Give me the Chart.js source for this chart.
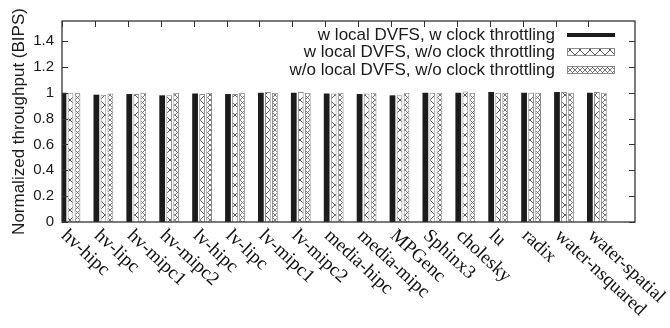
<!DOCTYPE html>
<html><head><meta charset="utf-8">
<script src="https://cdn.jsdelivr.net/npm/chart.js@4.4.0/dist/chart.umd.min.js"></script>
<style>html,body{margin:0;padding:0;background:#fff}</style>
</head><body>
<canvas id="c" width="670" height="328"></canvas>
<script>
const categories = ['hv-hipc','hv-lipc','hv-mipc1','hv-mipc2','lv-hipc','lv-lipc','lv-mipc1','lv-mipc2','media-hipc','media-mipc','MPGenc','Sphinx3','cholesky','lu','radix','water-nsquared','water-spatial'];
const seriesNames = ['w local DVFS, w clock throttling','w local DVFS, w/o clock throttling','w/o local DVFS, w/o clock throttling'];
const withDvfsWithThrottling = [1.0,0.985,0.99,0.98,0.995,0.99,1.0,1.0,0.995,0.99,0.98,1.0,1.0,1.005,1.0,1.005,1.0];
const withDvfsNoThrottling   = [1.0,0.985,0.99,0.98,0.99,0.99,1.005,1.005,0.995,0.995,0.98,1.0,1.01,1.0,1.0,1.005,1.005];
const noDvfsNoThrottling     = [1.0,0.995,1.0,1.0,1.0,1.0,1.0,1.0,1.0,1.0,1.0,1.0,1.0,1.0,1.0,1.0,1.0];
const yTicks = [0,0.2,0.4,0.6,0.8,1,1.2,1.4];
const yMax = 1.555;
const yTitle = 'Normalized throughput (BIPS)';

const GROUP_SHIFT = 0.258;   // ticks sit left of the group centre
const LABEL_ANGLE = 43 * Math.PI / 180;

function makePattern(period, color, lw) {
  const c = document.createElement('canvas');
  c.width = period; c.height = period;
  const g = c.getContext('2d');
  g.fillStyle = '#fff'; g.fillRect(0, 0, period, period);
  g.strokeStyle = color; g.lineWidth = lw;
  g.beginPath();
  g.moveTo(-1, -1); g.lineTo(period + 1, period + 1);
  g.moveTo(period + 1, -1); g.lineTo(-1, period + 1);
  g.stroke();
  return g.createPattern(c, 'repeat');
}
const ctxEl = document.getElementById('c');
const patBig = makePattern(10, '#444', 0.9);
const patSmall = makePattern(5, '#666', 0.9);

const toPts = arr => arr.map((v, i) => ({x: i, y: v}));

const decor = {
  id: 'decor',
  beforeDatasetsDraw(chart) {
    const {ctx, chartArea: a, scales: {x}} = chart;
    ctx.save();
    ctx.strokeStyle = '#333'; ctx.lineWidth = 1;
    ctx.beginPath();
    categories.forEach((_, i) => {
      const px = Math.round(x.getPixelForValue(i - GROUP_SHIFT)) + 0.5;
      ctx.moveTo(px, a.bottom); ctx.lineTo(px, a.bottom - 6);
    });
    ctx.stroke();
    ctx.restore();
  },
  afterDatasetsDraw(chart) {
    const {ctx, chartArea: a, scales: {x, y}} = chart;
    ctx.save();
    ctx.strokeStyle = '#333'; ctx.lineWidth = 1;
    ctx.beginPath();
    categories.forEach((_, i) => {
      const px = Math.round(x.getPixelForValue(i - GROUP_SHIFT)) + 0.5;
      ctx.moveTo(px, a.top); ctx.lineTo(px, a.top + 6);
    });
    yTicks.forEach(v => {
      const py = Math.round(y.getPixelForValue(v)) + 0.5;
      ctx.moveTo(a.left, py); ctx.lineTo(a.left + 6, py);
      ctx.moveTo(a.right, py); ctx.lineTo(a.right - 6, py);
    });
    ctx.stroke();
    ctx.lineWidth = 1.3;
    ctx.strokeRect(a.left, a.top, a.right - a.left, a.bottom - a.top);

    // category labels, rotated, starting at each tick
    ctx.fillStyle = '#111';
    ctx.font = '19px "Liberation Serif"';
    ctx.textAlign = 'left';
    ctx.textBaseline = 'middle';
    categories.forEach((lab, i) => {
      const px = x.getPixelForValue(i - GROUP_SHIFT);
      ctx.save();
      ctx.translate(px + 2, a.bottom + 11);
      ctx.rotate(LABEL_ANGLE);
      ctx.fillText(lab, 0, 0);
      ctx.restore();
    });

    // legend, text left of the key, inside the top right
    ctx.font = '17px "Liberation Sans"';
    ctx.textAlign = 'right';
    const rows = [35, 52, 70];
    chart.data.datasets.forEach((ds, k) => {
      const ry = rows[k];
      ctx.fillStyle = '#1a1a1a';
      ctx.fillText(ds.label, 555, ry);
      if (k === 0) {
        ctx.fillStyle = ds.backgroundColor;
        ctx.fillRect(567, ry - 2, 48, 4);
      } else {
        ctx.fillStyle = ds.backgroundColor;
        ctx.fillRect(567, ry - 4, 48, 7);
        ctx.strokeStyle = ds.borderColor; ctx.lineWidth = 1;
        ctx.strokeRect(567.5, ry - 3.5, 47, 7);
      }
    });
    ctx.restore();
  }
};

new Chart(ctxEl, {
  type: 'bar',
  data: {
    datasets: [
      {label: seriesNames[0], data: toPts(withDvfsWithThrottling), backgroundColor: '#1c1c1c', borderWidth: 0},
      {label: seriesNames[1], data: toPts(withDvfsNoThrottling), backgroundColor: patBig, borderColor: '#8a8a8a', borderWidth: 1},
      {label: seriesNames[2], data: toPts(noDvfsNoThrottling), backgroundColor: patSmall, borderColor: '#8a8a8a', borderWidth: 1}
    ]
  },
  options: {
    responsive: false,
    animation: false,
    datasets: {bar: {categoryPercentage: 0.64, barPercentage: 0.82}},
    layout: {padding: {left: 0, right: 35, top: 21, bottom: 0}},
    plugins: {legend: {display: false}, tooltip: {enabled: false}},
    scales: {
      x: {
        type: 'linear', min: -GROUP_SHIFT, max: 17.158, offset: false,
        grid: {display: false}, border: {display: false},
        ticks: {display: false},
        afterBuildTicks: s => { s.ticks = categories.map((_, i) => ({value: i})); },
        afterFit: s => { s.height = 106; }
      },
      y: {
        min: 0, max: yMax,
        grid: {display: false, drawTicks: false}, border: {display: false},
        ticks: {font: {family: 'Liberation Sans', size: 15}, color: '#1a1a1a', padding: 8,
                callback: v => String(v)},
        afterBuildTicks: s => { s.ticks = yTicks.map(v => ({value: v})); },
        afterFit: s => { s.width = 62; },
        title: {display: true, text: yTitle, font: {family: 'Liberation Sans', size: 17}, color: '#1a1a1a', padding: {top: 9, bottom: 0}}
      }
    }
  },
  plugins: [decor]
});
</script>
</body></html>
